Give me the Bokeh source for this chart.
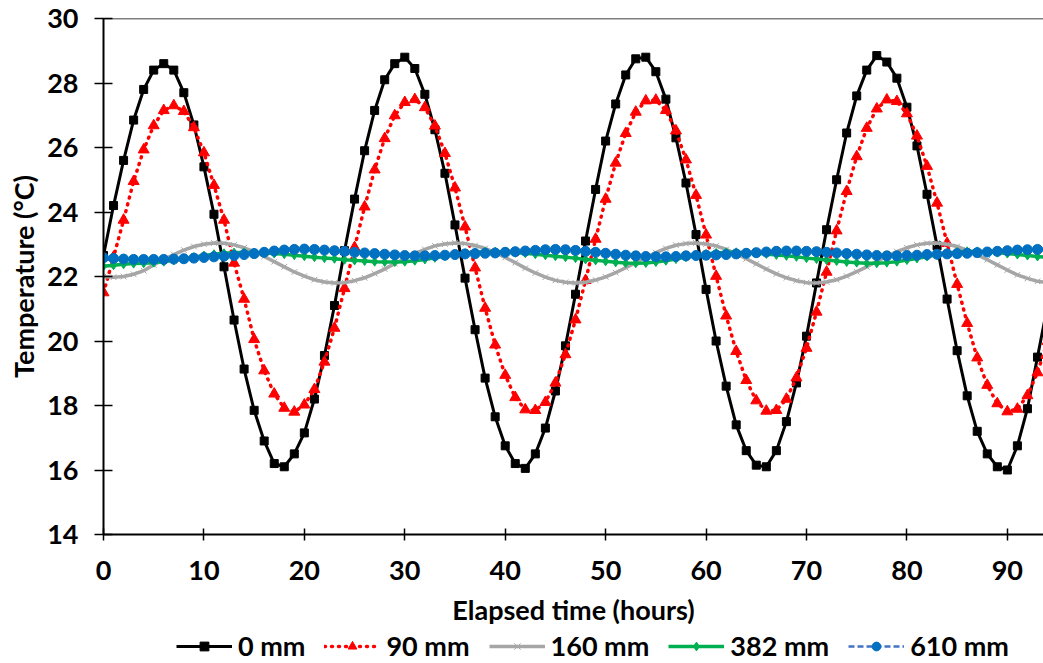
from bokeh.plotting import figure
from bokeh.models import Range1d, Span, Legend, LegendItem, FixedTicker
from bokeh.layouts import column
from bokeh.embed import file_html
from bokeh.resources import INLINE

hours = list(range(96))

t_0mm = [22.65, 24.2, 25.6, 26.85, 27.8, 28.4, 28.6, 28.4, 27.7, 26.7,
         25.4, 23.93, 22.3, 20.65, 19.13, 17.85, 16.9, 16.2, 16.1, 16.5,
         17.15, 18.2, 19.55, 21.1, 22.8, 24.4, 25.9, 27.15, 28.1, 28.6,
         28.8, 28.45, 27.65, 26.55, 25.2, 23.6, 21.95, 20.35, 18.85, 17.65,
         16.75, 16.2, 16.05, 16.5, 17.3, 18.45, 19.85, 21.45, 23.1, 24.7,
         26.2, 27.35, 28.25, 28.75, 28.8, 28.35, 27.5, 26.3, 24.9, 23.3,
         21.6, 20.0, 18.6, 17.4, 16.6, 16.15, 16.1, 16.6, 17.5, 18.7,
         20.15, 21.8, 23.45, 25.0, 26.45, 27.6, 28.4, 28.85, 28.65, 28.15,
         27.25, 26.05, 24.55, 22.95, 21.3, 19.7, 18.3, 17.2, 16.5, 16.1,
         16.0, 16.75, 17.9, 19.5, 21.1, 22.6]

t_90mm = [21.5, 22.6, 23.75, 24.95, 25.93, 26.68, 27.15, 27.3, 27.12, 26.62,
          25.84, 24.83, 23.75, 22.42, 21.3, 20.05, 19.08, 18.36, 17.92, 17.8,
          18.02, 18.5, 19.35, 20.4, 21.63, 22.9, 24.16, 25.31, 26.28, 26.99,
          27.4, 27.49, 27.24, 26.67, 25.82, 24.75, 23.54, 22.27, 21.02, 19.88,
          18.94, 18.25, 17.87, 17.85, 18.1, 18.7, 19.58, 20.66, 21.88, 23.16,
          24.4, 25.52, 26.44, 27.1, 27.45, 27.47, 27.15, 26.52, 25.62, 24.52,
          23.29, 22.01, 20.78, 19.68, 18.78, 18.15, 17.83, 17.85, 18.2, 18.86,
          19.78, 20.9, 22.14, 23.42, 24.64, 25.72, 26.6, 27.2, 27.48, 27.43,
          27.05, 26.36, 25.42, 24.28, 23.03, 21.76, 20.55, 19.48, 18.63, 18.06,
          17.81, 17.89, 18.31, 19.02, 19.99, 21.14]

t_160mm = [22.0, 21.98, 22.0, 22.07, 22.18, 22.36, 22.53, 22.68, 22.82, 22.93,
           23.0, 23.04, 23.03, 22.98, 22.89, 22.77, 22.62, 22.46, 22.3, 22.14,
           22.01, 21.9, 21.83, 21.8, 21.81, 21.87, 21.96, 22.09, 22.23, 22.4,
           22.56, 22.71, 22.84, 22.95, 23.01, 23.04, 23.02, 22.96, 22.87, 22.74,
           22.59, 22.43, 22.26, 22.11, 21.98, 21.88, 21.82, 21.8, 21.82, 21.89,
           21.99, 22.12, 22.27, 22.43, 22.59, 22.74, 22.87, 22.97, 23.02, 23.04,
           23.01, 22.95, 22.84, 22.71, 22.55, 22.39, 22.23, 22.08, 21.96, 21.87,
           21.81, 21.8, 21.83, 21.9, 22.01, 22.15, 22.3, 22.47, 22.63, 22.77,
           22.89, 22.98, 23.03, 23.04, 23.0, 22.93, 22.81, 22.68, 22.52, 22.36,
           22.2, 22.05, 21.94, 21.85, 21.81, 21.8]

t_382mm = [22.32, 22.35, 22.38, 22.4, 22.41, 22.43, 22.46, 22.5, 22.55, 22.6,
           22.65, 22.69, 22.72, 22.74, 22.75, 22.74, 22.73, 22.71, 22.69, 22.66,
           22.63, 22.6, 22.57, 22.55, 22.52, 22.5, 22.48, 22.46, 22.45, 22.45,
           22.46, 22.49, 22.53, 22.58, 22.63, 22.68, 22.72, 22.75, 22.77, 22.77,
           22.76, 22.74, 22.72, 22.69, 22.66, 22.63, 22.6, 22.57, 22.53, 22.5,
           22.47, 22.44, 22.42, 22.41, 22.42, 22.45, 22.49, 22.54, 22.6, 22.65,
           22.7, 22.73, 22.75, 22.75, 22.74, 22.72, 22.7, 22.67, 22.64, 22.61,
           22.57, 22.54, 22.51, 22.48, 22.45, 22.43, 22.41, 22.41, 22.43, 22.46,
           22.51, 22.56, 22.62, 22.67, 22.72, 22.76, 22.78, 22.78, 22.76, 22.74,
           22.71, 22.68, 22.65, 22.62, 22.59, 22.56]

t_610mm = [22.58, 22.56, 22.54, 22.53, 22.53, 22.53, 22.53, 22.54, 22.55, 22.57,
           22.59, 22.61, 22.63, 22.65, 22.68, 22.71, 22.75, 22.79, 22.82, 22.84,
           22.85, 22.84, 22.82, 22.8, 22.78, 22.75, 22.73, 22.71, 22.69, 22.67,
           22.65, 22.64, 22.64, 22.65, 22.66, 22.68, 22.7, 22.71, 22.72, 22.73,
           22.75, 22.77, 22.79, 22.81, 22.83, 22.84, 22.83, 22.81, 22.78, 22.75,
           22.72, 22.69, 22.66, 22.64, 22.62, 22.61, 22.61, 22.62, 22.64, 22.65,
           22.66, 22.67, 22.68, 22.7, 22.72, 22.74, 22.76, 22.78, 22.79, 22.79,
           22.78, 22.77, 22.75, 22.73, 22.71, 22.69, 22.67, 22.65, 22.64, 22.64,
           22.65, 22.66, 22.68, 22.69, 22.7, 22.71, 22.72, 22.74, 22.76, 22.78,
           22.8, 22.82, 22.83, 22.84, 22.84, 22.83]

series_labels = ["0 mm", "90 mm", "160 mm", "382 mm", "610 mm"]
x_ticks = [0, 10, 20, 30, 40, 50, 60, 70, 80, 90]
y_ticks = [14, 16, 18, 20, 22, 24, 26, 28, 30]

FONT = "Lato"

styles = [
    dict(line=dict(line_color="black", line_width=3),
         marker=dict(marker="square", size=8, fill_color="black", line_color="black")),
    dict(line=dict(line_color="#FF0000", line_width=3.5, line_dash="1 6", line_cap="round"),
         marker=dict(marker="triangle", size=11, fill_color="#FF0000", line_color="#FF0000")),
    dict(line=dict(line_color="#A6A6A6", line_width=3.5),
         marker=dict(marker="x", size=8, line_color="#A6A6A6", line_width=1)),
    dict(line=dict(line_color="#00B050", line_width=3.5),
         marker=dict(marker="diamond", size=9, fill_color="#00B050", line_color="#00B050")),
    dict(line=dict(line_color="#4472C4", line_width=2.5, line_dash="6 3"),
         marker=dict(marker="circle", size=10, fill_color="#0070C0", line_color="#0070C0")),
]
series = [t_0mm, t_90mm, t_160mm, t_382mm, t_610mm]

p = figure(width=1043, height=629, output_backend="svg", toolbar_location=None,
           x_range=Range1d(0, 93.6), y_range=Range1d(14, 30),
           min_border_left=103, min_border_right=0, min_border_top=18,
           min_border_bottom=95)
p.outline_line_color = None
p.grid.visible = False

p.add_layout(Span(location=30, dimension="width", line_color="black", line_width=1.5))

for vals, st in zip(series, styles):
    p.line(hours, vals, **st["line"])
    p.scatter(hours, vals, **st["marker"])

p.xaxis.ticker = FixedTicker(ticks=x_ticks)
p.yaxis.ticker = FixedTicker(ticks=y_ticks)
for ax in (p.xaxis, p.yaxis):
    ax.axis_line_color = "black"
    ax.axis_line_width = 2
    ax.major_tick_line_color = "black"
    ax.major_tick_line_width = 1.5
    ax.minor_tick_line_color = None
    ax.major_label_text_font = FONT
    ax.major_label_text_font_style = "bold"
    ax.major_label_text_font_size = "27px"
    ax.major_label_text_color = "black"
    ax.axis_label_text_font = FONT
    ax.axis_label_text_font_style = "bold"
    ax.axis_label_text_color = "black"

p.xaxis.major_tick_in = 6
p.xaxis.major_tick_out = 6
p.yaxis.major_tick_in = 9
p.yaxis.major_tick_out = 9
p.xaxis.major_label_standoff = 20
p.yaxis.major_label_standoff = 16
p.xaxis.axis_label = "Elapsed time (hours)"
p.yaxis.axis_label = "Temperature (°C)"
p.xaxis.axis_label_text_font_size = "27px"
p.yaxis.axis_label_text_font_size = "27px"
p.xaxis.axis_label_standoff = 10
p.yaxis.axis_label_standoff = 4

# legend strip below the chart (its frame is aligned with the chart's frame)
lg = figure(width=1043, height=34, output_backend="svg", toolbar_location=None,
            x_range=Range1d(0, 1), y_range=Range1d(0, 1),
            x_axis_type=None, y_axis_type=None, min_border=0)
lg.outline_line_color = None
lg.grid.visible = False
items = []
for label, st in zip(series_labels, styles):
    rl = lg.line([5, 6], [5, 5], **st["line"])
    rm = lg.scatter([5], [5], **st["marker"])
    items.append(LegendItem(label=label, renderers=[rl, rm]))
legend = Legend(items=items, orientation="horizontal", location=(73, 1),
                glyph_width=56, glyph_height=22, label_standoff=6, spacing=19,
                padding=0, margin=0, border_line_color=None, background_fill_alpha=0,
                label_text_font=FONT, label_text_font_style="bold",
                label_text_font_size="27px", label_text_color="black")
lg.add_layout(legend, "center")

open("out.html", "w").write(file_html(column(p, lg, spacing=0), INLINE))
